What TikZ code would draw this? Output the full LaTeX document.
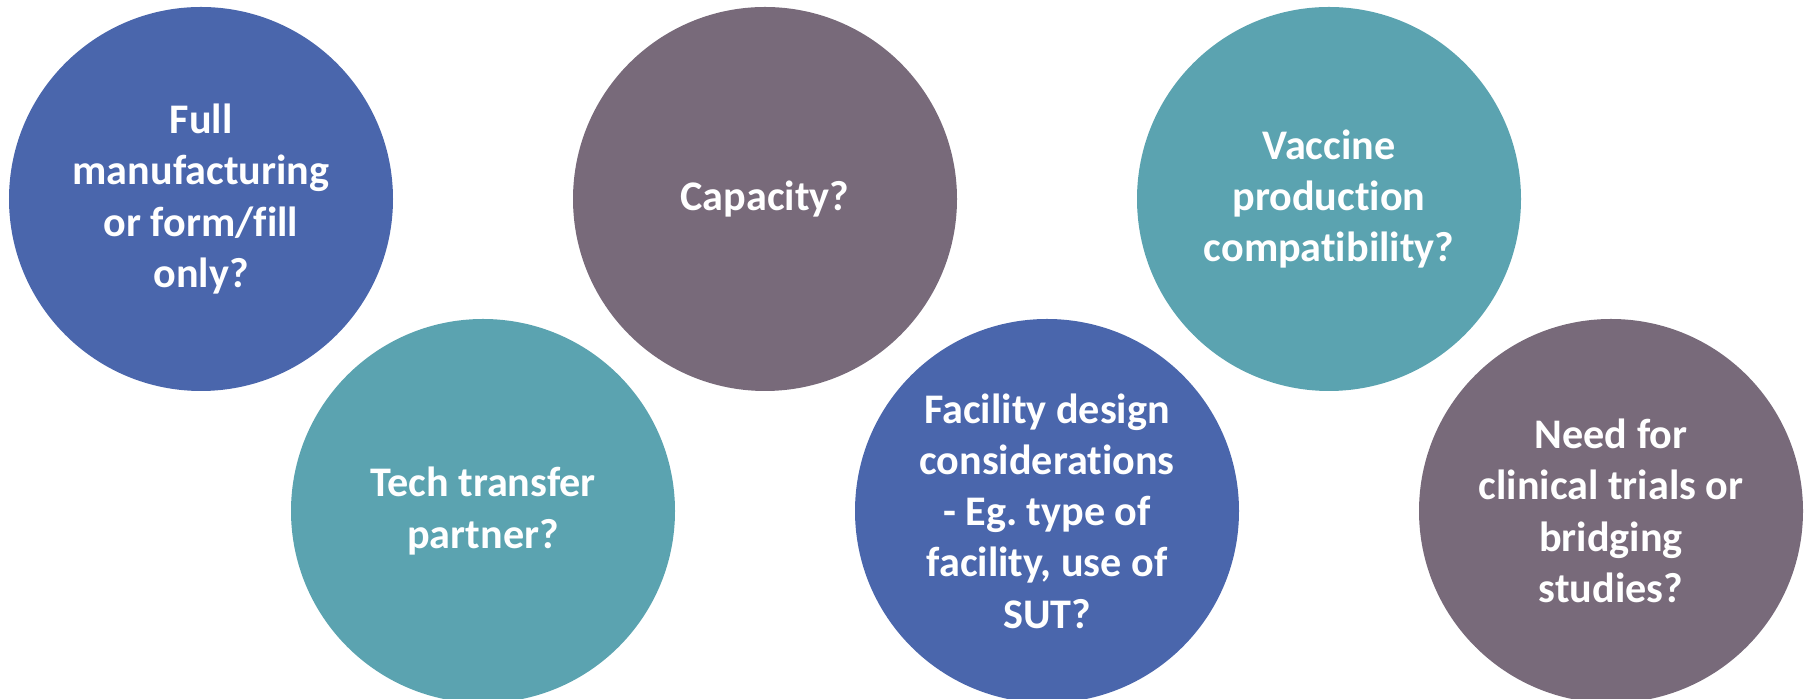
\documentclass[tikz,border=0pt]{standalone}
\usepackage{fontspec}
\setmainfont[Ligatures=NoCommon,RawFeature={-liga;-dlig;-calt;-clig}]{Carlito}
\usepackage{xcolor}
\usepackage{tikz}
\definecolor{bubbleBlue}{HTML}{4A66AC}
\definecolor{bubbleTeal}{HTML}{5BA3B0}
\definecolor{bubbleMauve}{HTML}{786A7A}

\tikzset{
  bubble/.style={circle,minimum size=3.84cm,inner sep=0pt,align=center,
    text=white,font=\fontsize{12}{14.6}\selectfont\bfseries},
}

\begin{document}
\frenchspacing
\begin{tikzpicture}
    \useasboundingbox (0,0) rectangle (18.04,6.99);
    % top row
    \node[bubble,fill=bubbleBlue] (full) at (2.01,5.00)
      {Full\\manufacturing\\or form/fill\\only?};
    \node[bubble,fill=bubbleMauve] (capacity) at (7.65,5.00) {Capacity?};
    \node[bubble,fill=bubbleTeal] (vaccine) at (13.29,5.00)
      {Vaccine\\production\\compatibility?};
    % bottom row
    \node[bubble,fill=bubbleTeal] (tech) at (4.83,1.88)
      {Tech transfer\\partner?};
    \node[bubble,fill=bubbleBlue] (facility) at (10.47,1.88)
      {Facility design\\considerations\\- Eg. type of\\facility, use of\\SUT?};
    \node[bubble,fill=bubbleMauve] (clinical) at (16.11,1.88)
      {Need for\\clinical trials or\\bridging\\studies?};
  \end{tikzpicture}
\end{document}
